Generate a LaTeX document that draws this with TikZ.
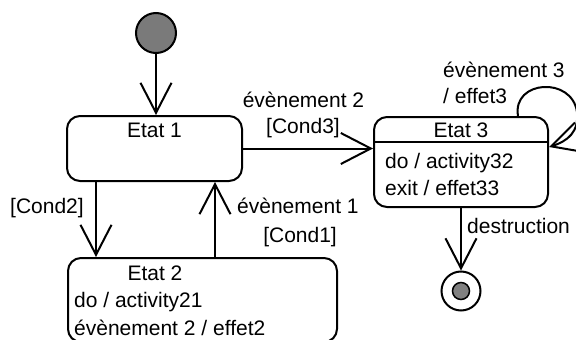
\documentclass[tikz,border=0pt]{standalone}
\usepackage{fontspec}
\setmainfont{Liberation Sans}
\usetikzlibrary{arrows.meta}
\begin{document}
\begin{tikzpicture}[x=1pt,y=-1pt,
  statebox/.style={draw, line width=2pt, rounded corners=13pt, inner sep=0pt},
  tr/.style={line width=2pt, -{Straight Barb[length=30pt,width=31pt,line width=2pt]}},
  lbl/.style={inner sep=0pt, font=\fontsize{21}{24}\selectfont},
]
\useasboundingbox (0,0) rectangle (576,340);

% pseudo-states
\node[circle, draw, line width=2pt, fill=black!52, minimum size=40pt, inner sep=0pt] (init) at (156,33) {};
\node[circle, draw, line width=2pt, minimum size=39pt, inner sep=0pt] (fin) at (461,291) {};
\node[circle, draw, line width=1.5pt, fill=black!50, minimum size=17pt, inner sep=0pt] (finin) at (fin.center) {};

% Etat 1
\node[statebox, minimum width=175pt, minimum height=65pt] (e1) at (154.5,148.5) {};
\node[lbl, anchor=base] (e1t) at (154.5,137) {Etat 1};

% Etat 3 with its compartment
\node[statebox, minimum width=174pt, minimum height=90pt] (e3) at (461,162) {};
\coordinate (div) at (0,142);
\draw[line width=1.5pt] (e3.west |- div) -- (e3.east |- div);
\node[lbl, anchor=base] (e3t) at (461,137) {Etat 3};
\node[lbl, anchor=base west] (e3a) at (385,168) {do / activity32};
\node[lbl, anchor=base west] (e3b) at (385,195) {exit / effet33};

% Etat 2
\node[statebox, minimum width=269pt, minimum height=84pt] (e2) at (202.5,300) {};
\node[lbl, anchor=base] (e2t) at (155,280) {Etat 2};
\node[lbl, anchor=base west] (e2a) at (74,307) {do / activity21};
\node[lbl, anchor=base west] (e2b) at (74,335) {évènement 2 / effet2};

% transitions
\coordinate (xa) at (96,0);
\coordinate (xb) at (215,0);
\coordinate (lp) at (518,0);
\coordinate (ly) at (0,147);
\draw[tr] (init) -- (init |- e1.north);
\draw[tr] (e1.south -| xa) -- (e2.north -| xa);
\draw[tr] (e2.north -| xb) -- (e1.south -| xb);
\draw[tr] (e1.east) -- (e1.east -| e3.west);
\draw[tr] (e3.south) -- (fin.north);
\draw[tr] (e3.north -| lp) .. controls (512,80) and (572,76) .. (577,112)
  .. controls (579,132) and (568,141) .. (e3.east |- ly);

% transition labels
\node[lbl, anchor=base] (l2a) at (303.5,107) {évènement 2};
\node[lbl, anchor=base] (l2b) at (303,133) {[Cond3]};
\node[lbl, anchor=base west] (l3a) at (443,77) {évènement 3};
\node[lbl, anchor=base west] (l3b) at (443,103) {/ effet3};
\node[lbl, anchor=base west] (lc2) at (10,213) {[Cond2]};
\node[lbl, anchor=base west] (l1a) at (237,213) {évènement 1};
\node[lbl, anchor=base east] (l1b) at (337,242) {[Cond1]};
\node[lbl, anchor=base west] (ld) at (467,233) {destruction};
\end{tikzpicture}
\end{document}
